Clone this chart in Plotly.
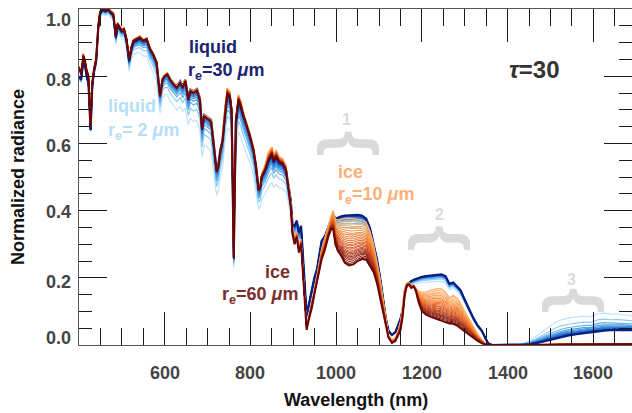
import numpy as np
import plotly.graph_objects as go
from plotly.colors import sample_colorscale

# ---------------- data ----------------
wavelength = [400, 405, 410, 414, 418, 422, 427, 431, 435, 440, 445, 449, 455, 462, 468, 474, 480, 486, 490, 495,
              500, 505, 511, 517, 522, 527, 535, 542, 550, 558, 566, 573, 581, 589, 595, 600, 606, 612, 620, 628,
              636, 642, 648, 655, 660, 667, 675, 682, 687, 692, 698, 703, 708, 713, 717, 721, 725, 729, 735, 741,
              746, 752, 756, 759, 761, 763, 766, 772, 777, 783, 791, 799, 807, 813, 819, 823, 826, 834, 842, 850,
              854, 860, 867, 875, 883, 888, 894, 898, 903, 908, 913, 918, 923, 927, 931, 936, 943, 949, 955, 960,
              966, 974, 982, 988, 993, 998, 1004, 1012, 1020, 1030, 1040, 1050, 1060, 1070, 1079, 1087, 1095, 1102, 1110, 1116,
              1122, 1130, 1138, 1145, 1150, 1155, 1160, 1165, 1170, 1175, 1181, 1186, 1192, 1200, 1210, 1222, 1235, 1245, 1255, 1264,
              1273, 1282, 1290, 1298, 1310, 1320, 1330, 1340, 1348, 1355, 1365, 1420, 1435, 1450, 1465, 1480, 1495, 1510, 1525, 1540,
              1560, 1577, 1593, 1610, 1625, 1640, 1655, 1670, 1690, 1700]

ice_60 = [0.826, 0.805, 0.860, 0.845, 0.815, 0.800, 0.650, 0.780, 0.820, 0.850, 0.950, 0.990, 1.000, 0.995, 1.000, 0.990, 0.985, 0.920, 0.955, 0.945,
          0.935, 0.940, 0.910, 0.850, 0.885, 0.905, 0.910, 0.915, 0.905, 0.910, 0.880, 0.865, 0.840, 0.740, 0.790, 0.800, 0.805, 0.790, 0.776, 0.765,
          0.780, 0.765, 0.785, 0.730, 0.755, 0.750, 0.757, 0.730, 0.640, 0.680, 0.675, 0.670, 0.665, 0.610, 0.560, 0.515, 0.530, 0.570, 0.610, 0.700,
          0.750, 0.740, 0.700, 0.450, 0.260, 0.450, 0.670, 0.730, 0.715, 0.685, 0.655, 0.620, 0.580, 0.530, 0.460, 0.470, 0.500, 0.520, 0.550, 0.570,
          0.548, 0.562, 0.545, 0.540, 0.520, 0.470, 0.410, 0.330, 0.300, 0.320, 0.275, 0.300, 0.200, 0.100, 0.045, 0.075, 0.110, 0.150, 0.185, 0.220,
          0.255, 0.285, 0.325, 0.345, 0.345, 0.300, 0.280, 0.265, 0.245, 0.237, 0.240, 0.250, 0.256, 0.254, 0.236, 0.218, 0.185, 0.142, 0.090, 0.055,
          0.022, 0.006, 0.012, 0.030, 0.045, 0.085, 0.150, 0.178, 0.180, 0.170, 0.174, 0.160, 0.128, 0.100, 0.090, 0.083, 0.077, 0.073, 0.070, 0.064,
          0.063, 0.058, 0.050, 0.042, 0.032, 0.022, 0.012, 0.005, 0.001, 0.000, 0.000, 0.000, 0.000, 0.000, 0.000, 0.001, 0.001, 0.001, 0.001, 0.002,
          0.002, 0.002, 0.002, 0.002, 0.002, 0.002, 0.002, 0.002, 0.002, 0.002]

ice_10 = [0.830, 0.812, 0.868, 0.850, 0.820, 0.805, 0.655, 0.785, 0.825, 0.855, 0.955, 0.995, 1.005, 1.000, 1.003, 0.995, 0.990, 0.925, 0.960, 0.950,
          0.940, 0.945, 0.915, 0.855, 0.890, 0.910, 0.915, 0.920, 0.910, 0.915, 0.885, 0.870, 0.845, 0.745, 0.795, 0.805, 0.810, 0.795, 0.780, 0.770,
          0.785, 0.770, 0.790, 0.735, 0.760, 0.755, 0.762, 0.735, 0.645, 0.685, 0.680, 0.675, 0.670, 0.615, 0.565, 0.520, 0.535, 0.575, 0.620, 0.715,
          0.765, 0.755, 0.710, 0.455, 0.262, 0.455, 0.680, 0.745, 0.728, 0.695, 0.665, 0.630, 0.590, 0.540, 0.470, 0.480, 0.510, 0.535, 0.575, 0.590,
          0.565, 0.580, 0.560, 0.555, 0.535, 0.485, 0.425, 0.350, 0.320, 0.335, 0.290, 0.315, 0.215, 0.110, 0.055, 0.085, 0.125, 0.165, 0.205, 0.245,
          0.285, 0.320, 0.360, 0.385, 0.400, 0.375, 0.372, 0.375, 0.377, 0.378, 0.376, 0.375, 0.372, 0.365, 0.338, 0.300, 0.250, 0.200, 0.130, 0.075,
          0.030, 0.015, 0.022, 0.045, 0.070, 0.115, 0.170, 0.185, 0.186, 0.180, 0.178, 0.170, 0.160, 0.157, 0.158, 0.163, 0.168, 0.168, 0.158, 0.140,
          0.148, 0.140, 0.125, 0.105, 0.078, 0.055, 0.033, 0.016, 0.005, 0.000, 0.000, 0.000, 0.000, 0.000, 0.000, 0.002, 0.002, 0.002, 0.003, 0.003,
          0.003, 0.004, 0.004, 0.004, 0.004, 0.004, 0.004, 0.004, 0.004, 0.004]

liquid_30 = [0.800, 0.790, 0.845, 0.835, 0.800, 0.780, 0.640, 0.770, 0.815, 0.845, 0.945, 0.985, 0.998, 0.993, 0.998, 0.988, 0.983, 0.915, 0.950, 0.942,
             0.933, 0.938, 0.905, 0.845, 0.880, 0.902, 0.908, 0.912, 0.905, 0.908, 0.880, 0.865, 0.842, 0.745, 0.793, 0.803, 0.808, 0.793, 0.780, 0.770,
             0.785, 0.770, 0.790, 0.735, 0.760, 0.755, 0.762, 0.735, 0.645, 0.685, 0.680, 0.675, 0.670, 0.615, 0.565, 0.520, 0.535, 0.575, 0.612, 0.700,
             0.745, 0.735, 0.695, 0.445, 0.258, 0.445, 0.665, 0.725, 0.710, 0.683, 0.655, 0.620, 0.582, 0.532, 0.462, 0.472, 0.500, 0.520, 0.548, 0.565,
             0.545, 0.558, 0.542, 0.538, 0.520, 0.480, 0.430, 0.360, 0.355, 0.370, 0.335, 0.355, 0.250, 0.150, 0.090, 0.120, 0.165, 0.200, 0.225, 0.270,
             0.310, 0.325, 0.355, 0.375, 0.390, 0.376, 0.380, 0.383, 0.385, 0.386, 0.387, 0.387, 0.385, 0.376, 0.347, 0.306, 0.256, 0.205, 0.135, 0.078,
             0.042, 0.030, 0.038, 0.060, 0.078, 0.105, 0.160, 0.180, 0.186, 0.190, 0.194, 0.197, 0.200, 0.203, 0.205, 0.207, 0.209, 0.210, 0.205, 0.182,
             0.186, 0.175, 0.163, 0.140, 0.106, 0.080, 0.058, 0.042, 0.020, 0.004, 0.000, 0.000, 0.000, 0.002, 0.005, 0.010, 0.015, 0.020, 0.024, 0.028,
             0.032, 0.035, 0.037, 0.041, 0.043, 0.044, 0.045, 0.045, 0.044, 0.044]

liquid_2 = [0.790, 0.780, 0.835, 0.820, 0.790, 0.770, 0.635, 0.760, 0.800, 0.830, 0.930, 0.975, 0.985, 0.980, 0.985, 0.975, 0.965, 0.895, 0.930, 0.920,
            0.910, 0.910, 0.880, 0.815, 0.850, 0.865, 0.870, 0.870, 0.860, 0.860, 0.830, 0.812, 0.785, 0.690, 0.735, 0.745, 0.745, 0.728, 0.712, 0.700,
            0.710, 0.695, 0.705, 0.655, 0.675, 0.665, 0.668, 0.640, 0.560, 0.595, 0.590, 0.585, 0.575, 0.530, 0.485, 0.445, 0.460, 0.495, 0.530, 0.610,
            0.645, 0.640, 0.605, 0.390, 0.230, 0.390, 0.580, 0.635, 0.620, 0.595, 0.570, 0.540, 0.505, 0.460, 0.405, 0.412, 0.435, 0.450, 0.470, 0.485,
            0.470, 0.478, 0.468, 0.465, 0.455, 0.425, 0.380, 0.320, 0.310, 0.325, 0.295, 0.310, 0.215, 0.130, 0.075, 0.100, 0.140, 0.175, 0.200, 0.240,
            0.275, 0.290, 0.320, 0.340, 0.355, 0.340, 0.335, 0.333, 0.330, 0.328, 0.330, 0.333, 0.335, 0.330, 0.305, 0.270, 0.225, 0.180, 0.118, 0.070,
            0.040, 0.032, 0.040, 0.058, 0.075, 0.100, 0.150, 0.170, 0.175, 0.178, 0.180, 0.182, 0.184, 0.186, 0.187, 0.188, 0.190, 0.190, 0.185, 0.165,
            0.168, 0.160, 0.148, 0.128, 0.097, 0.073, 0.052, 0.038, 0.018, 0.003, 0.000, 0.000, 0.004, 0.012, 0.024, 0.038, 0.053, 0.066, 0.075, 0.080,
            0.083, 0.086, 0.084, 0.093, 0.095, 0.092, 0.093, 0.090, 0.086, 0.085]

# effective radii of the plotted families, and where each line sits between the two
# extreme curves of its family (0 = first extreme, 1 = second), read from the fans
liquid_radii = [2, 4, 6, 8, 10, 12, 14, 16, 18, 20, 22, 24, 26, 28, 30]
liquid_position = [0.0, 0.35, 0.55, 0.67, 0.75, 0.81, 0.85, 0.89, 0.92, 0.94, 0.96, 0.97, 0.98, 0.99, 1.0]
ice_radii = [10, 12, 14, 16, 18, 20, 22, 24, 26, 28, 30, 32, 34, 36, 38, 40, 42, 44, 46, 48, 50, 52, 54, 56, 58, 60]
ice_position = [0.0, 0.06, 0.12, 0.17, 0.22, 0.27, 0.32, 0.36, 0.40, 0.44, 0.48, 0.52, 0.56, 0.59, 0.63, 0.66,
                0.70, 0.73, 0.76, 0.79, 0.82, 0.85, 0.88, 0.92, 0.96, 1.0]

# axis ticks and their labels
x_major = [600, 800, 1000, 1200, 1400, 1600]
x_minor = [450, 500, 550, 650, 700, 750, 850, 900, 950, 1050, 1100, 1150, 1250, 1300, 1350,
           1450, 1500, 1550, 1650]
y_major = [0.0, 0.2, 0.4, 0.6, 0.8, 1.0]
y_labels = ['0.0', '0.2', '0.4', '0.6', '0.8', '1.0']
y_minor = [0.05, 0.1, 0.15, 0.25, 0.3, 0.35, 0.45, 0.5, 0.55, 0.65, 0.7, 0.75, 0.85, 0.9, 0.95]

# ---------------- figure ----------------
W, H = 632, 413
ML, MR, MT, MB = 79, 0, 9, 68
X_RANGE = [400, 1690]
Y_RANGE = [0.0, 1.0]
FONT = 'Liberation Sans, Arial, Helvetica, sans-serif'
tick_col = 'rgb(25,25,35)'
line_col = 'rgb(85,85,95)'

wl = np.array(wavelength)
i60, i10 = np.array(ice_60), np.array(ice_10)
l30, l2 = np.array(liquid_30), np.array(liquid_2)

liq_scale = [[0, '#bfe3fb'], [0.07, '#8ecbf4'], [0.15, '#5eaeea'], [0.35, '#3587dc'],
             [0.65, '#1b5fc6'], [0.9, '#0d3a9e'], [1, '#0a1f80']]
ice_scale = [[0, '#fdb574'], [0.2, '#f8913e'], [0.4, '#ec6a22'], [0.6, '#cf4a1c'], [0.8, '#a02c14'], [1, '#6e0505']]
liq_cols = sample_colorscale(liq_scale, [i / (len(liquid_radii) - 1) for i in range(len(liquid_radii))])
ice_cols = sample_colorscale(ice_scale, [i / (len(ice_radii) - 1) for i in range(len(ice_radii))])

fig = go.Figure()
for k, (r, p) in enumerate(zip(liquid_radii, liquid_position)):
    y = l2 + (l30 - l2) * p
    w = 2.2 if k == len(liquid_radii) - 1 else 1.2
    fig.add_trace(go.Scatter(x=wl, y=y, mode='lines', line=dict(color=liq_cols[k], width=w),
                             name=f'liquid {r}', hoverinfo='skip'))
for k, (r, p) in enumerate(zip(ice_radii, ice_position)):
    y = i10 + (i60 - i10) * p
    w = 2.0 if k == len(ice_radii) - 1 else (1.3 if k == 0 else 1.0)
    fig.add_trace(go.Scatter(x=wl, y=y, mode='lines', line=dict(color=ice_cols[k], width=w),
                             name=f'ice {r}', hoverinfo='skip'))

fig.update_layout(
    width=W, height=H,
    margin=dict(l=ML, r=MR, t=MT, b=MB),
    plot_bgcolor='white', paper_bgcolor='white',
    showlegend=False,
    font=dict(family=FONT),
    xaxis=dict(
        range=X_RANGE, tickmode='array', tickvals=x_major, showticklabels=False,
        ticks='inside', ticklen=33, tickwidth=1, tickcolor=tick_col,
        showline=True, linecolor=line_col, linewidth=1, mirror='ticks',
        showgrid=False, zeroline=False, layer='above traces',
        minor=dict(tickmode='array', tickvals=x_minor, ticks='inside', ticklen=17,
                   tickwidth=1, tickcolor=tick_col, showgrid=False),
    ),
    yaxis=dict(
        range=Y_RANGE, tickmode='array', tickvals=y_major, showticklabels=False,
        ticks='inside', ticklen=28, tickwidth=1, tickcolor=tick_col,
        showline=True, linecolor=line_col, linewidth=1, mirror='ticks',
        showgrid=False, zeroline=False, layer='above traces',
        minor=dict(tickmode='array', tickvals=y_minor, ticks='inside', ticklen=13,
                   tickwidth=1, tickcolor=tick_col, showgrid=False),
    ),
)

label_font = dict(family=FONT, size=18, color='#444444', weight='bold')
for v in x_major:
    fig.add_annotation(x=v, y=0, xref='x', yref='paper', text=str(v), showarrow=False,
                       xanchor='center', yanchor='middle', yshift=-28, font=label_font)
for v, t, dy in zip(y_major, y_labels, [7, -4, -1, -3, -4, -11]):
    fig.add_annotation(x=0, y=v, xref='paper', yref='y', text=t, showarrow=False,
                       xanchor='right', yanchor='middle', xshift=-6, yshift=dy, font=label_font)
title_font = dict(family=FONT, size=18, color='#111111', weight='bold')
fig.add_annotation(x=0.5, y=0, xref='paper', yref='paper', text='Wavelength (nm)', showarrow=False,
                   xanchor='center', yanchor='middle', yshift=-55, font=title_font)
fig.add_annotation(x=0, y=0.5, xref='paper', yref='paper', text='Normalized radiance', showarrow=False,
                   textangle=-90, xanchor='center', yanchor='middle', xshift=-61, font=title_font)

def ann(text, x, y, color, size=18, xanchor='left', bold=True, **kw):
    fig.add_annotation(x=x, y=y, xref='x', yref='y', text=text, showarrow=False,
                       xanchor=xanchor, yanchor='middle',
                       font=dict(family=FONT, size=size, color=color, weight='bold' if bold else 'normal'), **kw)

navy = '#1c2470'
light = '#b5def7'
orange = '#fdb07a'
maroon = '#7a2e2e'
ann('liquid', 652, 0.888, navy)
ann('r<sub>e</sub>=30 <i>μ</i>m', 650, 0.815, navy)
ann('liquid', 463, 0.710, light)
ann('r<sub>e</sub>= 2 <i>μ</i>m', 463, 0.635, light)
ann('ice', 999.5, 0.516, orange)
ann('r<sub>e</sub>=10 <i>μ</i>m', 999.5, 0.446, orange)
ann('ice', 829, 0.216, maroon)
ann('r<sub>e</sub>=60 <i>μ</i>m', 729, 0.147, maroon)
ann('<i>τ</i>=30', 1398, 0.821, '#333333', size=24)

brace_col = '#dadada'
for num, nx, ny, bx, by in [('1', 1023, 0.670, 1042, 0.598),
                             ('2', 1242, 0.387, 1253, 0.318),
                             ('3', 1550, 0.196, 1567, 0.131)]:
    ann(num, nx, ny, brace_col, size=16, xanchor='center')
    fig.add_annotation(x=bx, y=by, xref='x', yref='y', text='{', showarrow=False, textangle=90,
                       xanchor='center', yanchor='middle',
                       font=dict(family=FONT, size=66, color=brace_col, weight='bold'))

fig.write_html('out.html')
